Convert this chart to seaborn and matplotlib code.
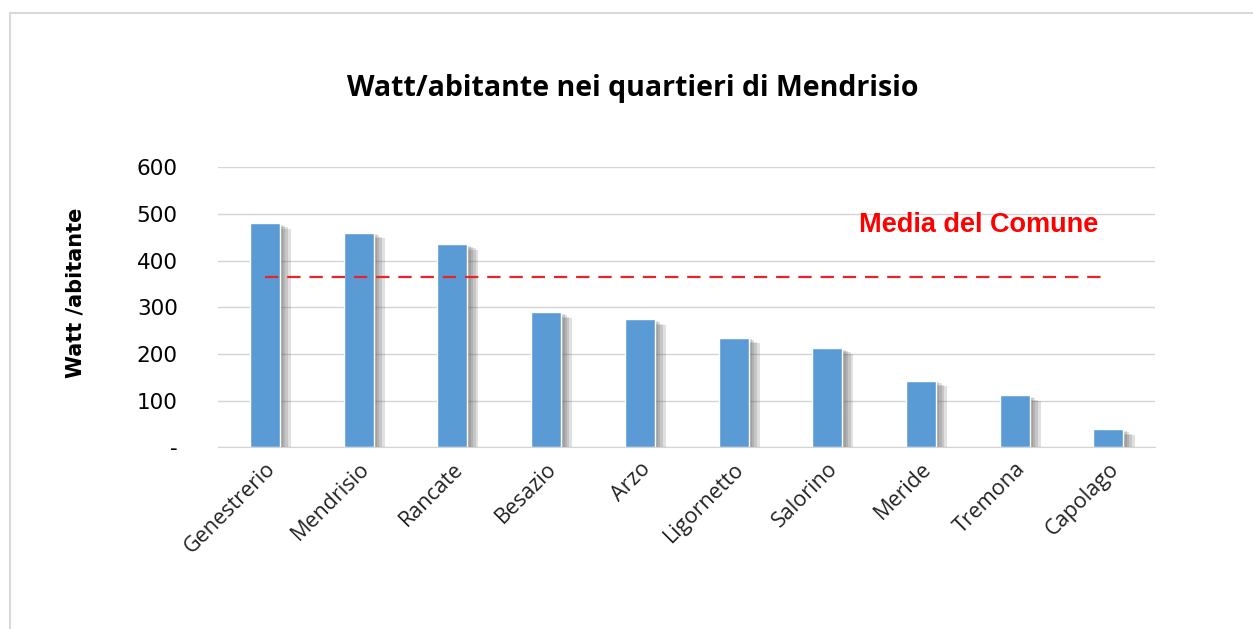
import numpy as np
import matplotlib.pyplot as plt
import matplotlib.patheffects as pe
import seaborn as sns
import pandas as pd

# --- Watt per abitante, quartieri di Mendrisio ---
quartieri = ['Genestrerio', 'Mendrisio', 'Rancate', 'Besazio', 'Arzo',
             'Ligornetto', 'Salorino', 'Meride', 'Tremona', 'Capolago']
watt = [480, 460, 435, 289, 274, 235, 212, 143, 111, 38]
media_comune = 364
yticks = [0, 100, 200, 300, 400, 500, 600]
ytick_labels = ['-', '100', '200', '300', '400', '500', '600']

df = pd.DataFrame({'quartiere': quartieri, 'watt': watt})

sns.set_style('white')
plt.rcParams.update({'text.color': 'black', 'axes.labelcolor': 'black',
                     'xtick.color': 'black', 'ytick.color': 'black'})
fig = plt.figure(figsize=(12.53, 6.29), dpi=100)
ax = fig.add_axes([0.174, 0.289, 0.748, 0.445])

sns.barplot(data=df, x='quartiere', y='watt', color='#5b9bd5',
            saturation=1, width=0.32, ax=ax)
# soft drop shadow like the spreadsheet original
shadow = [pe.SimplePatchShadow(offset=(o, -o / 2), shadow_rgbFace='#555555', alpha=0.18)
          for o in (8, 6, 4, 2.5)]
for bar in ax.patches:
    bar.set_path_effects(shadow + [pe.Normal()])

# media line from first to last quartiere
ax.plot([0, len(quartieri) - 1], [media_comune, media_comune],
        color='#e8242b', lw=1.6, ls=(0, (6, 4)), zorder=3)
ax.text(7.62, media_comune + 113, 'Media del Comune', color='#ff0000',
        fontsize=19.5, fontweight='bold', family='Liberation Sans',
        ha='center', va='center')

ax.set_ylim(0, 600)
ax.set_xlim(-0.5, len(quartieri) - 0.5)
ax.set_yticks(yticks)
ax.set_yticklabels(ytick_labels, fontsize=15.5, family='DejaVu Sans')
ax.yaxis.grid(True, color='#d4d4d4', lw=1)
ax.set_axisbelow(True)
for s in ['left', 'right', 'top']:
    ax.spines[s].set_visible(False)
ax.spines['bottom'].set_color('#d4d4d4')
ax.tick_params(axis='y', length=0, pad=29)
ax.tick_params(axis='x', length=0, pad=8)
plt.setp(ax.get_xticklabels(), rotation=45, ha='right', rotation_mode='anchor',
         fontsize=15.5, family='Open Sans', color='#222222')

ax.set_xlabel('')
ax.set_ylabel('Watt /abitante', fontsize=15, fontweight='bold')
ax.yaxis.set_label_coords(-0.141, 0.55)

fig.text(0.505, 0.86, 'Watt/abitante nei quartieri di Mendrisio', ha='center', va='center',
         fontsize=20.5, fontweight='bold', family='Open Sans')

# chart area frame
fig.patches.append(plt.Rectangle((0.008, -0.01), 1.0, 0.99, transform=fig.transFigure,
                                 fill=False, edgecolor='#d9d9d9', lw=1.5))

fig.savefig('out.png', dpi=100)
